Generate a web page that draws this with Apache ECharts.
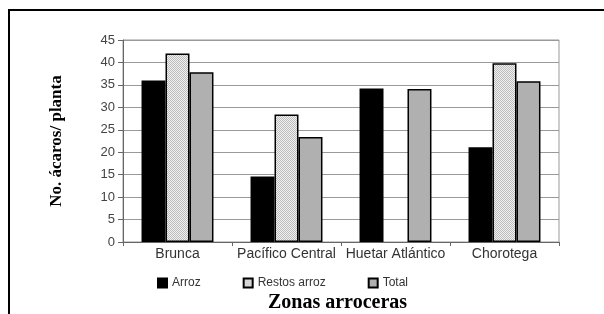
<!DOCTYPE html>
<html>
<head>
<meta charset="utf-8">
<script src="https://cdn.jsdelivr.net/npm/echarts@6/dist/echarts.min.js"></script>
<style>
  html, body { margin: 0; padding: 0; background: #fff; }
  #chart { width: 604px; height: 314px; }
</style>
</head>
<body>
<div id="chart"></div>
<script>
const categories = ['Brunca', 'Pacífico Central', 'Huetar Atlántico', 'Chorotega']
const arroz = [36, 14.6, 34.2, 21.1]
const restosArroz = [42, 28.4, '-', 39.8]  // Huetar Atlántico sin dato
const total = [37.8, 23.4, 34.1, 35.8]
const seriesNames = ['Arroz', 'Restos arroz', 'Total']

// patrón punteado para "Restos arroz"
const makeDots = () => {
    const c = document.createElement('canvas')
    c.width = 2
    c.height = 2
    const ctx = c.getContext('2d')
    ctx.fillStyle = '#f0f0f0'
    ctx.fillRect(0, 0, 2, 2)
    ctx.fillStyle = '#bdbdbd'
    ctx.fillRect(0, 0, 1, 1)
    ctx.fillRect(1, 1, 1, 1)
    return c
}
const dots = { image: makeDots(), repeat: 'repeat' }

const chart = echarts.init(document.getElementById('chart'))

const barBase = {
    type: 'bar',
    barGap: '0%',
    barCategoryGap: '34%',
    itemStyle: { borderColor: '#000', borderWidth: 1.5 }
}

chart.setOption({
    animation: false,
    textStyle: { fontFamily: 'Liberation Sans, Arial, sans-serif' },
    graphic: [
        {
            type: 'rect',
            shape: { x: 9, y: 10, width: 620, height: 330 },
            style: { fill: 'none', stroke: '#000', lineWidth: 2 },
            z: 100
        },
        {
            type: 'text',
            left: 268,
            top: 293,
            style: {
                text: 'Zonas arroceras',
                font: 'bold 20px "Liberation Serif", "Times New Roman", serif',
                fill: '#000'
            }
        }
    ],
    legend: {
        data: seriesNames,
        bottom: 20,
        left: 152,
        itemWidth: 9,
        itemHeight: 9,
        itemGap: 42,
        icon: 'rect',
        textStyle: { fontSize: 12, color: '#333' }
    },
    grid: {
        left: 123, right: 45, top: 40, bottom: 72,
        show: true, borderColor: '#999', borderWidth: 1
    },
    xAxis: {
        type: 'category',
        data: categories,
        axisLine: { lineStyle: { color: '#666', width: 1 } },
        axisTick: { show: true, length: 4, lineStyle: { color: '#666' } },
        axisLabel: {
            fontSize: 14,
            color: '#333',
            margin: 5,
            interval: 0
        }
    },
    yAxis: {
        type: 'value',
        min: 0,
        max: 45,
        interval: 5,
        name: 'No. ácaros/ planta',
        nameLocation: 'middle',
        nameGap: 58,
        nameTextStyle: {
            fontFamily: 'Liberation Serif, Times New Roman, serif',
            fontWeight: 'bold',
            fontSize: 17,
            color: '#000'
        },
        axisLine: { show: true, lineStyle: { color: '#666' } },
        axisTick: { show: true, length: 5, lineStyle: { color: '#666' } },
        axisLabel: { fontSize: 13, color: '#444', margin: 8 },
        splitLine: { lineStyle: { color: '#999', width: 1 } }
    },
    series: [
        Object.assign({}, barBase, { name: seriesNames[0], data: arroz, itemStyle: Object.assign({}, barBase.itemStyle, { color: '#000' }) }),
        Object.assign({}, barBase, { name: seriesNames[1], data: restosArroz, itemStyle: Object.assign({}, barBase.itemStyle, { color: dots }) }),
        Object.assign({}, barBase, { name: seriesNames[2], data: total, itemStyle: Object.assign({}, barBase.itemStyle, { color: '#b0b0b0' }) })
    ]
})
</script>
</body>
</html>
